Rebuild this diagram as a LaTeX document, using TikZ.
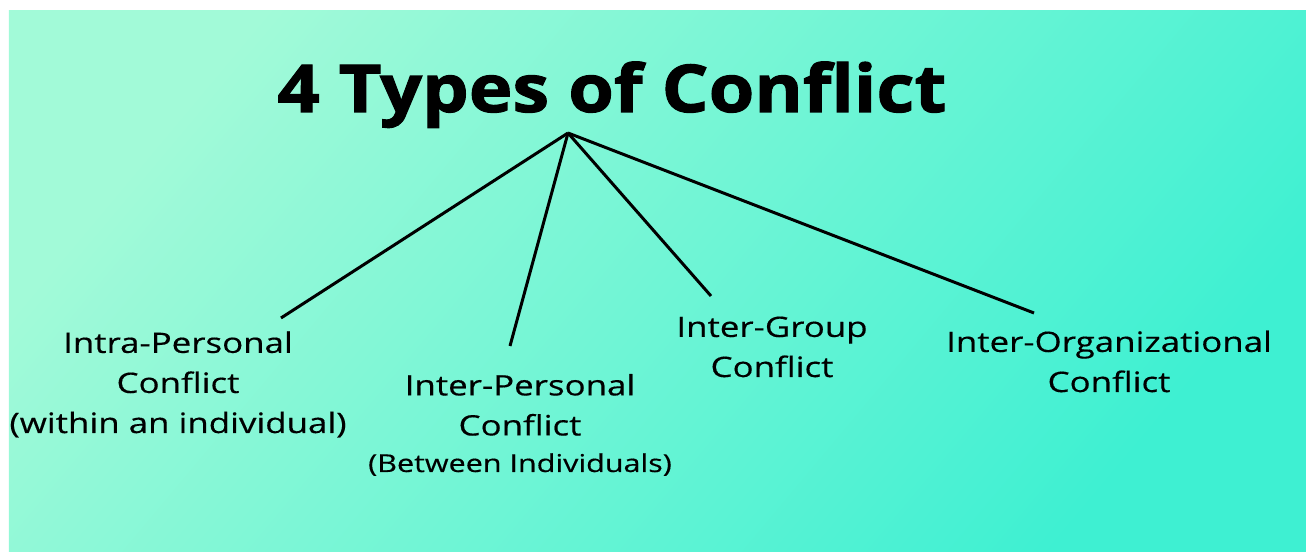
\documentclass[tikz,border=0pt]{standalone}
\usepackage{fontspec}
\setmainfont{Open Sans}[FakeStretch=1.24,FakeBold=0.4]
\newfontfamily\headfont{Open Sans}[FakeStretch=1.12,FakeBold=1.6]
\definecolor{mintlight}{RGB}{162,250,216}
\definecolor{mintdark}{RGB}{62,240,210}
\begin{document}
\begin{tikzpicture}
	\tikzstyle{label}=[align=center,anchor=base,font={\fontsize{16pt}{22.8pt}\selectfont}]
	\tikzstyle{branch}=[line width=1.7pt,black]
	\useasboundingbox (0,0) rectangle (26.12,11.04);
	\shade[top color=mintlight,bottom color=mintdark,shading angle=50] (0.18,0) rectangle (26.12,10.82);
	\draw
	node[anchor=base,font={\fontsize{37.5pt}{40pt}\headfont\bfseries}](T)at(12.24,8.8){4 Types of Conflict}
	coordinate(O)at(11.36,8.38)
	node[label](A)at(3.56,2.38){Intra-Personal\\Conflict\\(within an individual)}
	node[label](B)at(10.4,1.6){Inter-Personal\\Conflict\\[-2pt]{\fontsize{14pt}{16pt}\selectfont(Between Individuals)}}
	node[label](C)at(15.44,3.5){Inter-Group\\Conflict}
	node[label](D)at(22.18,3.2){Inter-Organizational\\Conflict}
	coordinate(a)at(5.62,4.68)
	coordinate(b)at(10.2,4.12)
	coordinate(c)at(14.22,5.12)
	coordinate(d)at(20.68,4.78);
	
	\draw[branch](O)--(a);
	\draw[branch](O)--(b);
	\draw[branch](O)--(c);
	\draw[branch](O)--(d);
\end{tikzpicture}
\end{document}
